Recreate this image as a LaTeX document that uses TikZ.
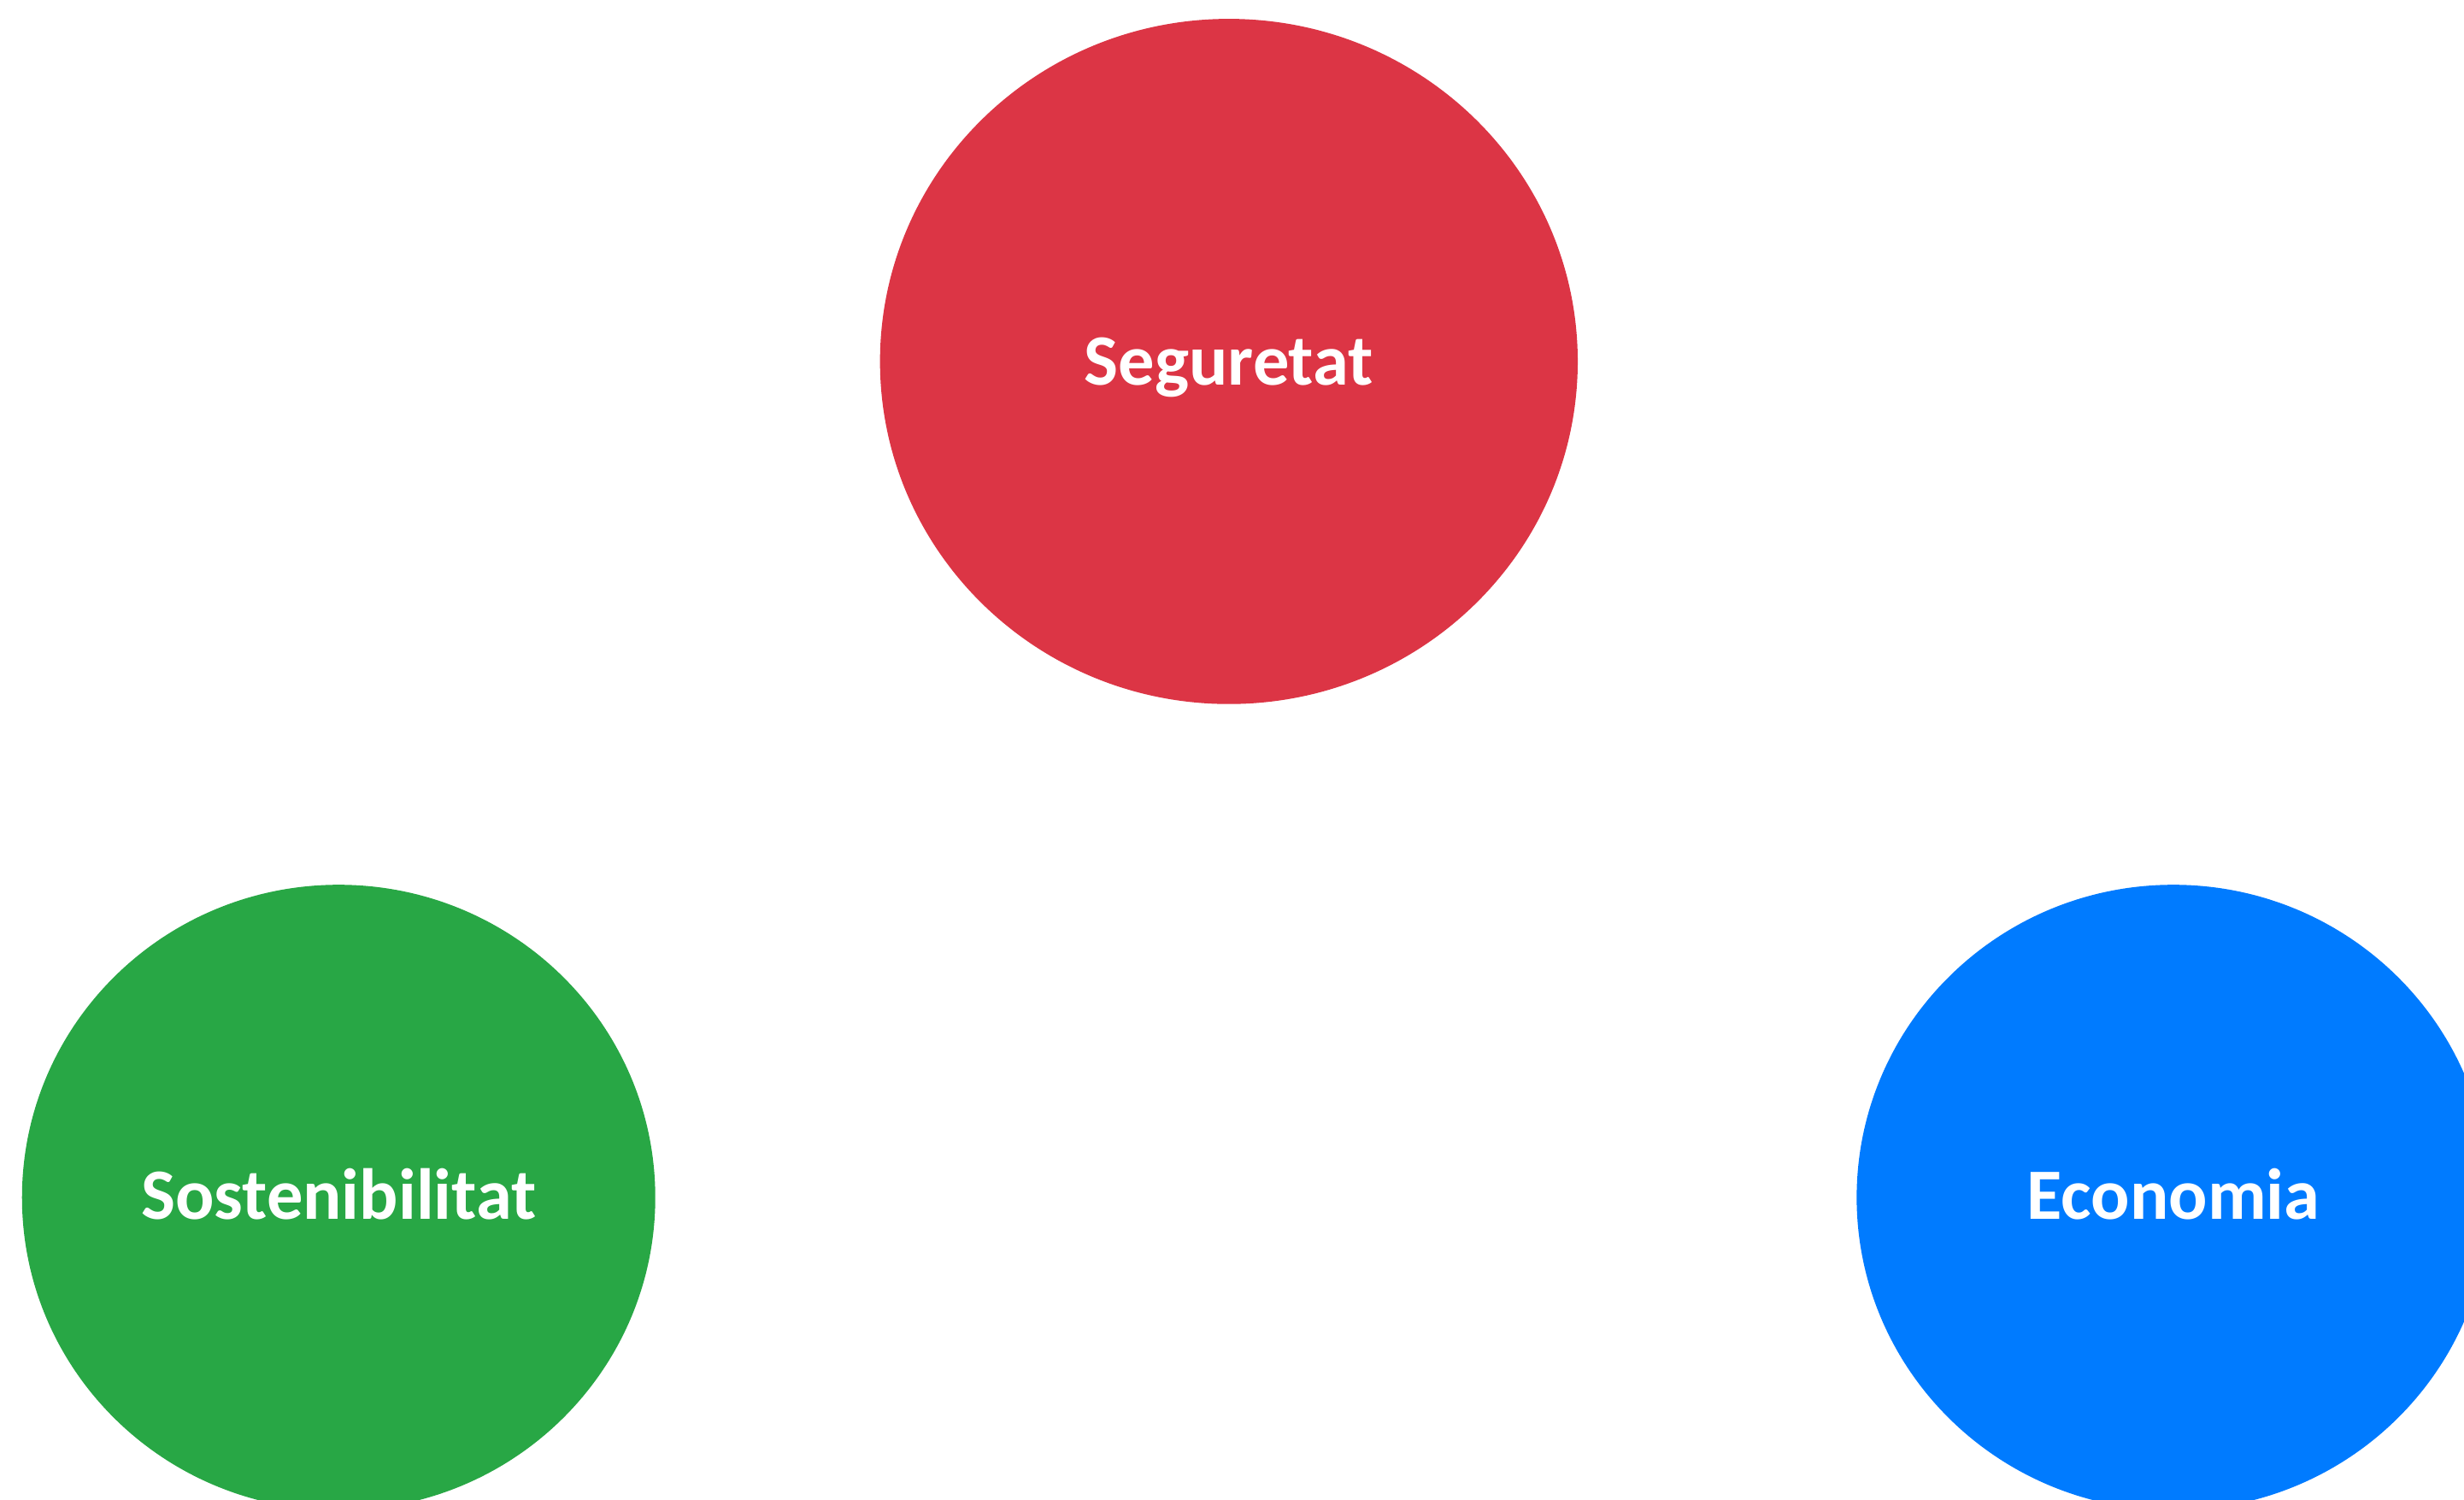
\documentclass[tikz,border=0pt]{standalone}
\usepackage{fontspec}
\setmainfont{Carlito}
\usetikzlibrary{shapes.geometric}
\definecolor{cred}{HTML}{DC3545}
\definecolor{cgreen}{HTML}{28A745}
\definecolor{cblue}{HTML}{007BFF}
\tikzset{
  blob/.style={ellipse, draw=none, inner sep=0pt},
  lbl/.style={anchor=base, text=white, font=\fontsize{46}{55}\selectfont\bfseries, inner sep=0pt}
}
\begin{document}
\begin{tikzpicture}[x=1pt,y=-1pt]
\useasboundingbox (0,0) rectangle (1568,954);
\clip (0,0) rectangle (1568,954);
\fill[white] (0,0) rectangle (1568,954);
\node[blob, fill=cred, minimum width=444pt, minimum height=436pt] (seg) at (782,230) {};
\node[blob, fill=cgreen, minimum width=403pt, minimum height=398pt] (sos) at (215.5,762) {};
\node[blob, fill=cblue, minimum width=403pt, minimum height=398pt] (eco) at (1383,762) {};
\node[lbl] (tseg) at (782,245) {Seguretat};
\node[lbl] (tsos) at (215.5,776) {Sostenibilitat};
\node[lbl] (teco) at (1383,776) {Economia};
\end{tikzpicture}
\end{document}
